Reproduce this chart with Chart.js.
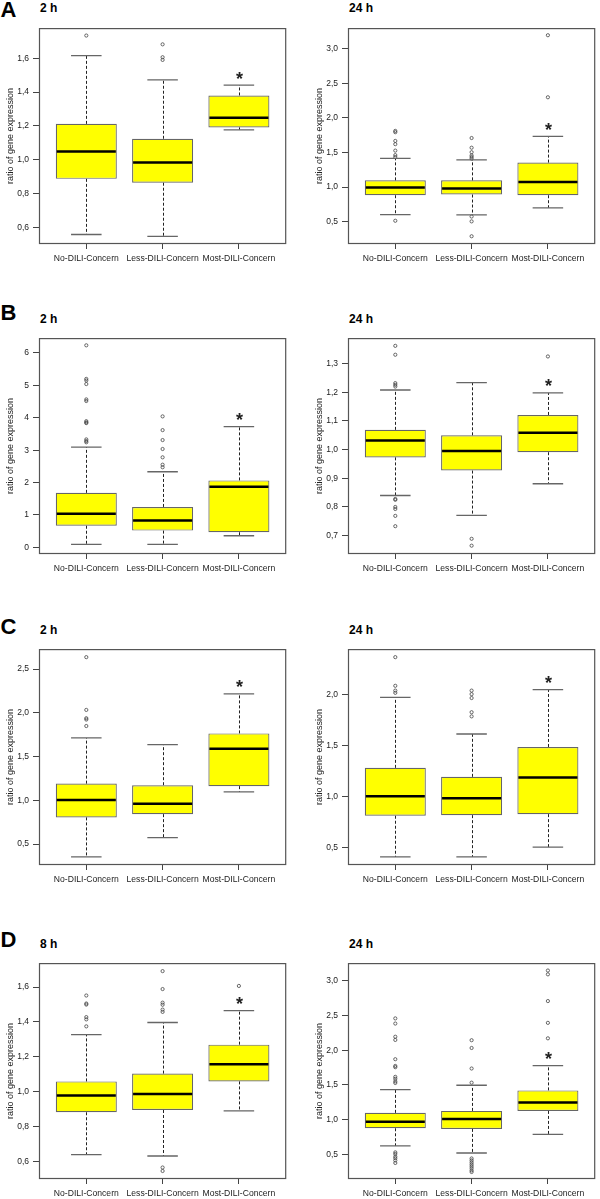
<!DOCTYPE html>
<html>
<head>
<meta charset="utf-8">
<script src="https://cdn.jsdelivr.net/npm/chart.js@4.4.1/dist/chart.umd.min.js"></script>
<style>
  body { margin: 0; background: #fff; }
  #fig { position: relative; width: 600px; height: 1199px; overflow: hidden; font-family: "Liberation Sans", Arial, sans-serif; }
  .letter { position: absolute; font-weight: bold; font-size: 22px; line-height: 22px; color: #000; }
  .ptitle { position: absolute; font-weight: bold; font-size: 12px; line-height: 12px; color: #000; white-space: nowrap; }
  canvas { position: absolute; }
</style>
</head>
<body>
<div id="fig"></div>
<script>
var categories = ['No-DILI-Concern', 'Less-DILI-Concern', 'Most-DILI-Concern'];
var significant = [false, false, true];

// each box: [lower whisker, Q1, median, Q3, upper whisker]
// A, 2 h
var a2Stats = [[0.558, 0.887, 1.049, 1.212, 1.615], [0.547, 0.864, 0.984, 1.124, 1.472], [1.177, 1.191, 1.248, 1.380, 1.441]];
var a2Outliers = [[1.734], [1.682, 1.606, 1.590], []];
var a2Ticks = [0.6, 0.8, 1.0, 1.2, 1.4, 1.6];
var a2Range = [0.502, 1.778];

// A, 24 h
var a24Stats = [[0.603, 0.883, 0.995, 1.098, 1.416], [0.598, 0.893, 0.981, 1.098, 1.393], [0.701, 0.883, 1.075, 1.355, 1.734]];
var a24Outliers = [[1.813, 1.794, 1.668, 1.621, 1.528, 1.463, 1.435, 0.514], [1.710, 1.570, 1.505, 1.458, 1.435, 1.411, 0.575, 0.505, 0.290], [3.196, 2.299]];
var a24Ticks = [0.5, 1.0, 1.5, 2.0, 2.5, 3.0];
var a24Range = [0.178, 3.299];

// B, 2 h
var b2Stats = [[0.091, 0.666, 1.040, 1.682, 3.095], [0.091, 0.516, 0.832, 1.247, 2.334], [0.358, 0.466, 1.870, 2.067, 3.727]];
var b2Outliers = [[6.237, 5.200, 5.150, 5.041, 4.567, 4.518, 3.895, 3.856, 3.836, 3.332, 3.283, 3.243], [4.043, 3.619, 3.312, 3.036, 2.779, 2.551, 2.472], []];
var b2Ticks = [0, 1, 2, 3, 4, 5, 6];
var b2Range = [-0.206, 6.46];

// B, 24 h
var b24Stats = [[0.840, 0.973, 1.032, 1.069, 1.208], [0.771, 0.927, 0.995, 1.050, 1.234], [0.881, 0.991, 1.059, 1.121, 1.198]];
var b24Outliers = [[1.362, 1.331, 1.232, 1.226, 1.220, 0.828, 0.825, 0.800, 0.793, 0.769, 0.733], [0.689, 0.665], [1.325]];
var b24Ticks = [0.7, 0.8, 0.9, 1.0, 1.1, 1.2, 1.3];
var b24Range = [0.636, 1.389];

// C, 2 h
var c2Stats = [[0.353, 0.805, 1.004, 1.191, 1.713], [0.574, 0.842, 0.960, 1.173, 1.636], [1.096, 1.162, 1.588, 1.765, 2.217]];
var c2Outliers = [[2.636, 2.033, 1.938, 1.923, 1.849], [], []];
var c2Ticks = [0.5, 1.0, 1.5, 2.0, 2.5];
var c2Range = [0.261, 2.728];

// C, 24 h
var c24Stats = [[0.409, 0.813, 1.005, 1.283, 1.975], [0.409, 0.819, 0.986, 1.195, 1.615], [0.506, 0.829, 1.189, 1.488, 2.051]];
var c24Outliers = [[2.369, 2.088, 2.041, 2.019], [2.041, 2.006, 1.968, 1.829, 1.788], []];
var c24Ticks = [0.5, 1.0, 1.5, 2.0];
var c24Range = [0.330, 2.448];

// D, 8 h
var d8Stats = [[0.639, 0.882, 0.978, 1.059, 1.327], [0.631, 0.895, 0.987, 1.104, 1.397], [0.890, 1.059, 1.157, 1.270, 1.465]];
var d8Outliers = [[1.552, 1.506, 1.500, 1.428, 1.415, 1.375], [1.692, 1.589, 1.511, 1.499, 1.471, 1.458, 0.565, 0.545], [1.607]];
var d8Ticks = [0.6, 0.8, 1.0, 1.2, 1.4, 1.6];
var d8Range = [0.499, 1.738];

// D, 24 h
var d24Stats = [[0.620, 0.875, 0.968, 1.097, 1.431], [0.519, 0.866, 1.009, 1.125, 1.495], [0.787, 1.125, 1.245, 1.421, 1.778]];
var d24Outliers = [[2.458, 2.384, 2.194, 2.148, 1.870, 1.773, 1.755, 1.616, 1.588, 1.551, 1.528, 0.528, 0.505, 0.468, 0.444, 0.412, 0.375],
                   [2.144, 2.032, 1.736, 1.532, 0.440, 0.412, 0.384, 0.356, 0.329, 0.301, 0.269, 0.245],
                   [3.148, 3.093, 2.708, 2.394, 2.171]];
var d24Ticks = [0.5, 1.0, 1.5, 2.0, 2.5, 3.0];
var d24Range = [0.144, 3.255];

var FONT = '"Liberation Sans", Arial, sans-serif';
Chart.defaults.font.family = FONT;
Chart.defaults.color = '#222';

var fig = document.getElementById('fig');
var rowTops = [21, 331, 642, 956];       // frame top of each row
var titleBase = [12.5, 323, 634, 948];
var letterBase = [18, 321, 635, 948];
var letters = ['A', 'B', 'C', 'D'];

var panels = [
  {row: 0, col: 0, title: '2 h', stats: a2Stats, outliers: a2Outliers, ticks: a2Ticks, range: a2Range, dec: 1},
  {row: 0, col: 1, title: '24 h', stats: a24Stats, outliers: a24Outliers, ticks: a24Ticks, range: a24Range, dec: 1},
  {row: 1, col: 0, title: '2 h', stats: b2Stats, outliers: b2Outliers, ticks: b2Ticks, range: b2Range, dec: 0},
  {row: 1, col: 1, title: '24 h', stats: b24Stats, outliers: b24Outliers, ticks: b24Ticks, range: b24Range, dec: 1},
  {row: 2, col: 0, title: '2 h', stats: c2Stats, outliers: c2Outliers, ticks: c2Ticks, range: c2Range, dec: 1},
  {row: 2, col: 1, title: '24 h', stats: c24Stats, outliers: c24Outliers, ticks: c24Ticks, range: c24Range, dec: 1},
  {row: 3, col: 0, title: '8 h', stats: d8Stats, outliers: d8Outliers, ticks: d8Ticks, range: d8Range, dec: 1},
  {row: 3, col: 1, title: '24 h', stats: d24Stats, outliers: d24Outliers, ticks: d24Ticks, range: d24Range, dec: 1}
];

// whiskers, caps, medians, stars and the frame
function boxExtras(stats) {
  return {
    id: 'boxExtras',
    afterDatasetsDraw: function(chart) {
      var ctx = chart.ctx, xs = chart.scales.x, ys = chart.scales.y, area = chart.chartArea;
      ctx.save();
      stats.forEach(function(s, i) {
        var cx = Math.round(xs.getPixelForValue(i + 1)) + 0.5;
        var capL = xs.getPixelForValue(i + 1 - 0.2), capR = xs.getPixelForValue(i + 1 + 0.2);
        var boxL = xs.getPixelForValue(i + 1 - 0.4), boxR = xs.getPixelForValue(i + 1 + 0.4);
        var yLow = ys.getPixelForValue(s[0]), yQ1 = ys.getPixelForValue(s[1]);
        var yMed = ys.getPixelForValue(s[2]), yQ3 = ys.getPixelForValue(s[3]);
        var yHigh = ys.getPixelForValue(s[4]);

        ctx.strokeStyle = '#222';
        ctx.lineWidth = 1;
        ctx.setLineDash([3, 2]);
        ctx.beginPath();
        ctx.moveTo(cx, yQ3); ctx.lineTo(cx, yHigh);
        ctx.moveTo(cx, yQ1); ctx.lineTo(cx, yLow);
        ctx.stroke();
        ctx.setLineDash([]);

        ctx.strokeStyle = '#666';
        ctx.lineWidth = 1.3;
        ctx.beginPath();
        ctx.moveTo(capL, yHigh); ctx.lineTo(capR, yHigh);
        ctx.moveTo(capL, yLow); ctx.lineTo(capR, yLow);
        ctx.stroke();

        ctx.strokeStyle = '#000';
        ctx.lineWidth = 2.5;
        ctx.beginPath();
        ctx.moveTo(boxL + 1, yMed); ctx.lineTo(boxR - 1, yMed);
        ctx.stroke();

        if (significant[i]) {
          ctx.font = 'bold 18px ' + FONT;
          ctx.fillStyle = '#222';
          ctx.textAlign = 'center';
          ctx.textBaseline = 'alphabetic';
          var m = ctx.measureText('*');
          var off = (m.actualBoundingBoxAscent - m.actualBoundingBoxDescent) / 2;
          ctx.fillText('*', cx, yHigh - 10 + off);
        }
      });
      ctx.strokeStyle = '#555';
      ctx.lineWidth = 1.2;
      ctx.strokeRect(area.left + 0.5, area.top + 0.5, area.width - 1, area.height - 1);
      ctx.restore();
    }
  };
}

function addText(cls, text, left, top) {
  var d = document.createElement('div');
  d.className = cls;
  d.textContent = text;
  d.style.left = left + 'px';
  d.style.top = top + 'px';
  fig.appendChild(d);
}

letters.forEach(function(l, r) {
  addText('letter', l, 0.5, letterBase[r] - 18.6);
});

panels.forEach(function(p) {
  var left = p.col === 0 ? 0 : 309;
  var top = rowTops[p.row] - 2;
  addText('ptitle', p.title, p.col === 0 ? 40 : 349, titleBase[p.row] - 10.2);

  var canvas = document.createElement('canvas');
  canvas.width = 291;
  canvas.height = 249;
  canvas.style.left = left + 'px';
  canvas.style.top = top + 'px';
  canvas.style.width = '291px';
  canvas.style.height = '249px';
  fig.appendChild(canvas);

  var boxData = p.stats.map(function(s, i) { return {x: i + 1, y: [s[1], s[3]]}; });
  var outData = [];
  p.outliers.forEach(function(list, i) {
    list.forEach(function(v) { outData.push({x: i + 1, y: v}); });
  });

  new Chart(canvas, {
    type: 'bar',
    data: {
      datasets: [
        {
          type: 'bar',
          data: boxData,
          backgroundColor: '#ffff00',
          borderColor: '#666',
          borderWidth: 1.2,
          borderSkipped: false,
          categoryPercentage: 1,
          barPercentage: 0.8
        },
        {
          type: 'scatter',
          data: outData,
          showLine: false,
          pointRadius: 1.6,
          pointBackgroundColor: 'rgba(0,0,0,0)',
          pointBorderColor: '#444',
          pointBorderWidth: 0.8
        }
      ]
    },
    options: {
      responsive: false,
      devicePixelRatio: 1,
      animation: false,
      layout: {padding: {top: 2, right: 2, left: 0, bottom: 0}},
      plugins: {legend: {display: false}, tooltip: {enabled: false}},
      scales: {
        x: {
          type: 'linear',
          min: 0.38,
          max: 3.62,
          offset: false,
          grid: {offset: false, drawOnChartArea: false, drawTicks: true, tickLength: 5, color: '#444'},
          border: {display: false},
          ticks: {
            font: {size: 8.6},
            color: '#222',
            padding: 4,
            maxRotation: 0,
            autoSkip: false,
            callback: function(v) { return categories[Math.round(v) - 1]; }
          },
          afterBuildTicks: function(s) { s.ticks = categories.map(function(c, i) { return {value: i + 1}; }); },
          afterFit: function(s) { s.height = 24; }
        },
        y: {
          min: p.range[0],
          max: p.range[1],
          grid: {drawOnChartArea: false, drawTicks: true, tickLength: 6, color: '#444'},
          border: {display: false},
          ticks: {
            font: {size: 8.5},
            color: '#222',
            padding: 4,
            callback: function(v) { return v.toFixed(p.dec).replace('.', ','); }
          },
          afterBuildTicks: function(s) { s.ticks = p.ticks.map(function(v) { return {value: v}; }); },
          afterFit: function(s) { s.width = 39; },
          title: {
            display: true,
            text: 'ratio of gene expression',
            font: {size: 9},
            color: '#222',
            padding: {top: 5, bottom: 0}
          }
        }
      }
    },
    plugins: [boxExtras(p.stats)]
  });
});
</script>
</body>
</html>
